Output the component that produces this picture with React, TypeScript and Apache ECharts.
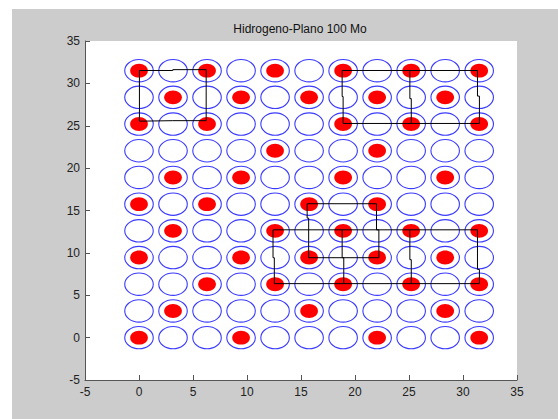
import React, { useEffect, useRef } from "react";
import * as echarts from "echarts";

// Lattice positions (data units)
const latticeX = [0, 3.15, 6.3, 9.45, 12.6, 15.75, 18.9, 22.05, 25.2, 28.35, 31.5];
const latticeY = [0, 3.15, 6.3, 9.45, 12.6, 15.75, 18.9, 22.05, 25.2, 28.35, 31.5];

// Columns holding a red (hydrogen) dot, listed per row, from row 0 (y=0) to row 10 (y=31.5)
const redColumnsByRow = [
  [0, 3, 7, 10],
  [1, 5, 9],
  [2, 4, 6, 8, 10],
  [0, 3, 5, 7, 9],
  [1, 4, 6, 8, 10],
  [0, 2, 5, 7],
  [1, 3, 6, 9],
  [4, 7],
  [0, 2, 6, 8, 10],
  [1, 3, 5, 7, 9],
  [0, 2, 4, 6, 8, 10],
];

// Black connecting lines (polylines, data units)
const squareTopLeft = [
  [0.04, 25.54], [0.04, 31.52], [3.13, 31.52], [3.13, 31.62], [6.22, 31.62],
  [6.22, 25.6], [3.13, 25.6], [3.13, 25.54], [0.04, 25.54],
];
const frameTopRight = [
  [18.81, 31.52], [31.34, 31.52], [31.34, 28.5], [31.52, 28.5], [31.52, 25.27],
  [18.9, 25.27], [18.9, 28.45], [18.81, 28.45], [18.81, 31.52],
];
const frameTopRightMid = [[25.08, 31.52], [25.08, 28.2], [25.21, 28.2], [25.21, 25.27]];
const squareCenter = [
  [15.57, 15.8], [21.99, 15.8], [21.99, 12.72], [22.21, 12.72], [22.21, 9.43],
  [15.71, 9.43], [15.71, 14.1], [15.57, 14.1], [15.57, 15.8],
];
const frameBottom = [
  [12.41, 12.72], [31.34, 12.72], [31.34, 8.05], [31.52, 8.05], [31.52, 6.37],
  [12.53, 6.37], [12.53, 9.43], [12.41, 9.43], [12.41, 12.72],
];
const frameBottomMid1 = [[18.81, 12.72], [18.81, 9.43], [18.96, 9.43], [18.96, 6.37]];
const frameBottomMid2 = [[25.08, 12.72], [25.08, 9.2], [25.21, 9.2], [25.21, 6.37]];

const axisTicks = [-5, 0, 5, 10, 15, 20, 25, 30, 35];
const titleText = "Hidrogeno-Plano 100 Mo";

const RING_R = 1.32;
const DOT_R = 0.82;

export default function App() {
  const ref = useRef<HTMLDivElement>(null);

  useEffect(() => {
    if (!ref.current) return;
    const chart = echarts.init(ref.current, null, { renderer: "svg" });

    const ringData: number[][] = [];
    latticeY.forEach((y) => latticeX.forEach((x) => ringData.push([x, y])));
    const dotData: number[][] = [];
    redColumnsByRow.forEach((cols, r) =>
      cols.forEach((c) => dotData.push([latticeX[c], latticeY[r]]))
    );

    const font = "'Liberation Sans', Arial, Helvetica, sans-serif";
    const makeLine = (data: number[][]) => ({
      type: "line",
      data,
      symbol: "none",
      z: 5,
      lineStyle: { color: "#000000", width: 1 },
      silent: true,
    });

    const axisCommon = {
      type: "value",
      min: axisTicks[0],
      max: axisTicks[axisTicks.length - 1],
      interval: 5,
      splitLine: { show: false },
      axisLine: { show: true, onZero: false, lineStyle: { color: "#555555", width: 1 } },
      axisTick: { show: true, inside: true, length: 5, lineStyle: { color: "#555555" } },
      axisLabel: { color: "#222222", fontSize: 12, fontFamily: font, margin: 6 },
    };

    chart.setOption({
      animation: false,
      backgroundColor: "#ffffff",
      graphic: [
        {
          type: "rect",
          z: -10,
          silent: true,
          shape: { x: 12, y: 9, width: 546, height: 410 },
          style: { fill: "#cccccc" },
        },
        {
          type: "text",
          x: 300,
          y: 29,
          z: 10,
          style: {
            text: titleText,
            textAlign: "center",
            textVerticalAlign: "middle",
            fontSize: 12,
            fontFamily: font,
            fill: "#111111",
          },
        },
      ],
      grid: {
        left: 85,
        right: 41,
        top: 41,
        bottom: 39,
        show: true,
        backgroundColor: "#ffffff",
        borderWidth: 0,
      },
      xAxis: { ...axisCommon, position: "bottom" },
      yAxis: { ...axisCommon, position: "left", axisLabel: { ...axisCommon.axisLabel, margin: 5 } },
      series: [
        {
          type: "custom",
          z: 2,
          silent: true,
          data: ringData,
          renderItem: (params: any, api: any) => {
            const c = api.coord([api.value(0), api.value(1)]);
            const s = api.size([RING_R, RING_R]);
            return {
              type: "ellipse",
              shape: { cx: c[0], cy: c[1], rx: s[0], ry: s[1] },
              style: { fill: "none", stroke: "#3a3aff", lineWidth: 1.1 },
            };
          },
        },
        {
          type: "custom",
          z: 3,
          silent: true,
          data: dotData,
          renderItem: (params: any, api: any) => {
            const c = api.coord([api.value(0), api.value(1)]);
            const s = api.size([DOT_R, DOT_R]);
            return {
              type: "ellipse",
              shape: { cx: c[0], cy: c[1], rx: s[0], ry: s[1] },
              style: { fill: "#ff0000", stroke: "none" },
            };
          },
        },
        makeLine(squareTopLeft),
        makeLine(frameTopRight),
        makeLine(frameTopRightMid),
        makeLine(squareCenter),
        makeLine(frameBottom),
        makeLine(frameBottomMid1),
        makeLine(frameBottomMid2),
      ],
    });

    return () => chart.dispose();
  }, []);

  return (
    <div
      ref={ref}
      style={{ position: "fixed", left: 0, top: 0, width: 558, height: 419 }}
    />
  );
}
